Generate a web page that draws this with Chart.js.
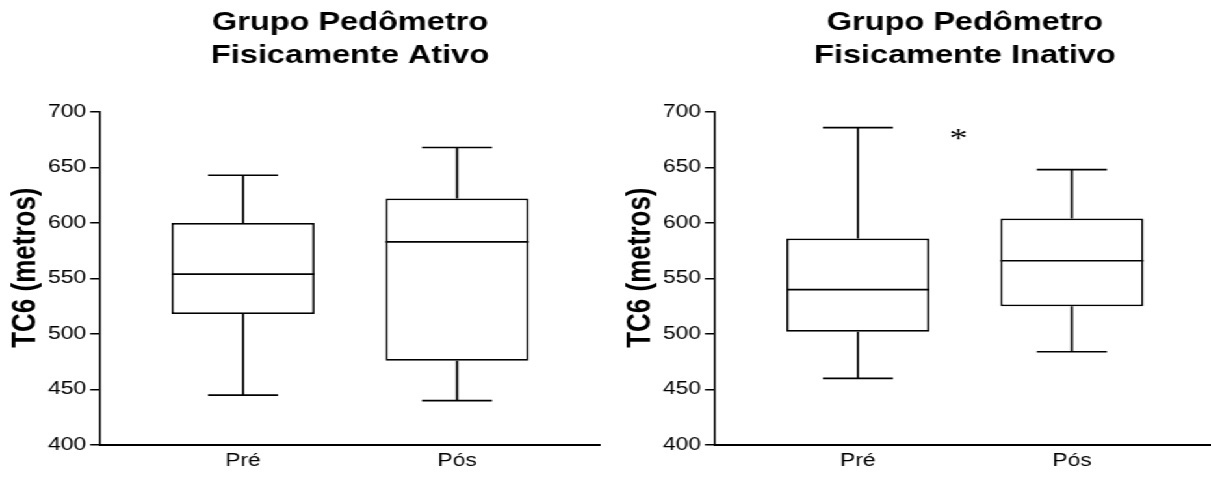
<!DOCTYPE html>
<html>
<head>
<meta charset="utf-8">
<script src="https://cdn.jsdelivr.net/npm/chart.js@4.4.0/dist/chart.umd.min.js"></script>
<style>
  html, body { margin: 0; padding: 0; background: #fff; overflow: hidden; width: 1211px; height: 484px; }
  /* the reference is stretched horizontally, so draw narrow and widen */
  #wrap { position: absolute; left: 0; top: 0; width: 946px; height: 484px; transform: scaleX(1.3); transform-origin: 0 0; }
  #wrap canvas { position: absolute; top: 0; }
  #ativo { left: 0; }
  #inativo { left: 473px; }
</style>
</head>
<body>
<div id="wrap">
  <canvas id="ativo" width="473" height="484"></canvas>
  <canvas id="inativo" width="473" height="484"></canvas>
</div>
<script>
// Box plot data (TC6 in metres)
const categories = ['Pré', 'Pós'];

const ativoMin    = [445, 440];
const ativoQ1     = [518, 476];
const ativoMedian = [554, 583];
const ativoQ3     = [600, 622];
const ativoMax    = [643, 668];

const inativoMin    = [460, 484];
const inativoQ1     = [502, 525];
const inativoMedian = [540, 566];
const inativoQ3     = [586, 604];
const inativoMax    = [686, 648];

// significance mark on the inactive group
const inativoMarks = [{ x: 0.47, y: 675, text: '*' }];

const yMin = 400, yMax = 700, yStep = 50;
const xPad = 0.668; // space left and right of the outer boxes, in category units

const FONT = "'Liberation Sans', Arial, sans-serif";
Chart.defaults.color = '#000';
Chart.defaults.font.family = FONT;

// whiskers, caps, medians and text marks drawn through the chart scales
const boxPlugin = {
    id: 'boxWhiskers',
    afterDatasetsDraw(chart, args, opts) {
        const ctx = chart.ctx;
        const xs = chart.scales.x, ys = chart.scales.y;
        const bars = chart.getDatasetMeta(0).data;
        const s = opts.stats;
        ctx.save();
        ctx.strokeStyle = '#000';
        ctx.lineWidth = 1.7;
        bars.forEach((bar, i) => {
            const cx = xs.getPixelForValue(i);
            const half = bar.width / 2;
            const cap = half * 0.49;
            const pMin = ys.getPixelForValue(s.min[i]);
            const pQ1 = ys.getPixelForValue(s.q1[i]);
            const pMed = ys.getPixelForValue(s.median[i]);
            const pQ3 = ys.getPixelForValue(s.q3[i]);
            const pMax = ys.getPixelForValue(s.max[i]);
            ctx.beginPath();
            ctx.moveTo(cx, pQ3); ctx.lineTo(cx, pMax);
            ctx.moveTo(cx - cap, pMax); ctx.lineTo(cx + cap, pMax);
            ctx.moveTo(cx, pQ1); ctx.lineTo(cx, pMin);
            ctx.moveTo(cx - cap, pMin); ctx.lineTo(cx + cap, pMin);
            ctx.moveTo(cx - half, pMed); ctx.lineTo(cx + half, pMed);
            ctx.stroke();
        });
        (opts.marks || []).forEach(m => {
            ctx.fillStyle = '#000';
            ctx.font = "28px 'Liberation Serif', 'Times New Roman', serif";
            ctx.textAlign = 'center';
            ctx.textBaseline = 'middle';
            ctx.fillText(m.text, xs.getPixelForValue(m.x), ys.getPixelForValue(m.y));
        });
        ctx.restore();
    }
};

function makeBoxChart(id, title, stats, marks) {
    const ctx = document.getElementById(id).getContext('2d');
    return new Chart(ctx, {
        type: 'bar',
        data: {
            datasets: [{
                data: categories.map((c, i) => ({ x: i, y: [stats.q1[i], stats.q3[i]] })),
                backgroundColor: '#fff',
                borderColor: '#000',
                borderWidth: 1.7,
                borderSkipped: false,
                barPercentage: 0.668,
                categoryPercentage: 1
            }]
        },
        options: {
            responsive: false,
            animation: false,
            layout: { padding: { left: 0, right: 11.5, top: 0, bottom: 0 } },
            plugins: {
                legend: { display: false },
                tooltip: { enabled: false },
                title: {
                    display: true,
                    text: title,
                    fullSize: false,
                    color: '#000',
                    font: { family: FONT, size: 25, weight: 'bold', lineHeight: 1.33 },
                    padding: { top: 6.4, bottom: 39.1 }
                },
                boxWhiskers: { stats: stats, marks: marks }
            },
            scales: {
                x: {
                    type: 'linear',
                    offset: false,
                    bounds: 'data',
                    min: -xPad,
                    max: categories.length - 1 + xPad,
                    afterBuildTicks: (scale) => { scale.ticks = categories.map((c, i) => ({ value: i })); },
                    afterFit: (scale) => { scale.height = 39; },
                    grid: { display: false, drawTicks: false, offset: false },
                    border: { display: true, color: '#000', width: 2 },
                    ticks: {
                        padding: 6,
                        font: { family: FONT, size: 17.5 },
                        color: '#000',
                        callback: (v) => categories[v]
                    }
                },
                y: {
                    min: yMin,
                    max: yMax,
                    afterFit: (scale) => { scale.width = 77; },
                    grid: { display: true, drawOnChartArea: false, drawTicks: true, tickLength: 7.7, color: '#000', lineWidth: 1.5 },
                    border: { display: true, color: '#000', width: 1.5 },
                    ticks: {
                        stepSize: yStep,
                        padding: 3,
                        font: { family: FONT, size: 17.5 },
                        color: '#000'
                    },
                    title: {
                        display: true,
                        text: '   TC6 (metros)',
                        color: '#000',
                        font: { family: FONT, size: 26, weight: 'bold', lineHeight: 1.2 },
                        padding: { top: 4, bottom: 0 }
                    }
                }
            }
        },
        plugins: [boxPlugin]
    });
}

makeBoxChart('ativo', ['Grupo Pedômetro', 'Fisicamente Ativo'],
    { min: ativoMin, q1: ativoQ1, median: ativoMedian, q3: ativoQ3, max: ativoMax }, []);
makeBoxChart('inativo', ['Grupo Pedômetro', 'Fisicamente Inativo'],
    { min: inativoMin, q1: inativoQ1, median: inativoMedian, q3: inativoQ3, max: inativoMax }, inativoMarks);
</script>
</body>
</html>
